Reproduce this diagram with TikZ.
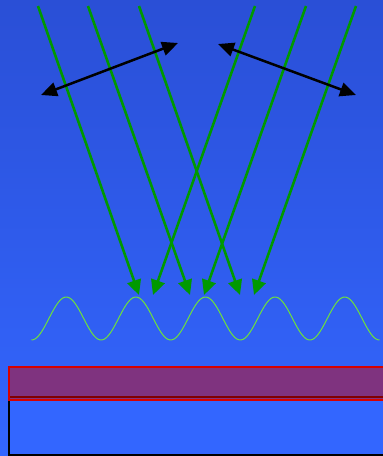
\documentclass[tikz,border=0pt]{standalone}
\usetikzlibrary{arrows.meta}
\definecolor{bgtop}{RGB}{42,79,214}
\definecolor{bgbot}{RGB}{51,102,255}
\definecolor{raygreen}{RGB}{0,153,0}
\definecolor{wavegreen}{RGB}{110,225,60}
\definecolor{edgered}{RGB}{215,0,0}
\definecolor{filmfill}{RGB}{127,51,127}
\definecolor{darkedge}{RGB}{128,0,0}
\tikzset{
  ray/.style={draw=raygreen, line width=2.6pt, -{Triangle[length=15pt,width=14pt]}},
  pol/.style={draw=black, line width=2.5pt, {Triangle[length=16pt,width=14pt]}-{Triangle[length=16pt,width=14pt]}},
  wave/.style={draw=wavegreen, line width=1pt},
  film/.style={draw=edgered, line width=2pt, fill=filmfill},
  substrate/.style={draw=black, line width=2pt, fill=bgbot}
}
\begin{document}
\begin{tikzpicture}[x=1pt,y=-1pt]
\useasboundingbox (0,0) rectangle (383,456);
\clip (0,0) rectangle (383,456);
\shade[top color=bgtop, bottom color=bgbot] (0,0) rectangle (383,456);
% coordinates
\coordinate (a1) at (38,6);   \coordinate (b1) at (139,295);
\coordinate (a2) at (88,6);   \coordinate (b2) at (190,295);
\coordinate (a3) at (139,6);  \coordinate (b3) at (240,295);
\coordinate (a4) at (255,6);  \coordinate (b4) at (153,295);
\coordinate (a5) at (306,6);  \coordinate (b5) at (204,295);
\coordinate (a6) at (356,6);  \coordinate (b6) at (254,295);
\coordinate (p1) at (41,95);  \coordinate (q1) at (178,43);
\coordinate (p2) at (218,44); \coordinate (q2) at (356,95);
\coordinate (e1) at (10,397); \coordinate (e2) at (400,397);
% substrate and film
\draw[substrate] (9,397.5) rectangle (400,454.5);
\draw[film] (9,367) rectangle (400,399.5);
\draw[darkedge, line width=2pt] (e1) -- (e2);
% wave
\draw[wave] plot[domain=31.5:379.5, samples=200, smooth] (\x, {318.5+21.5*cos(5.1724*(\x-31.5))});
% rays
\foreach \i in {1,...,6} { \draw[ray] (a\i) -- (b\i); }
% polarisation arrows
\draw[pol] (p1) -- (q1);
\draw[pol] (p2) -- (q2);
\end{tikzpicture}
\end{document}
